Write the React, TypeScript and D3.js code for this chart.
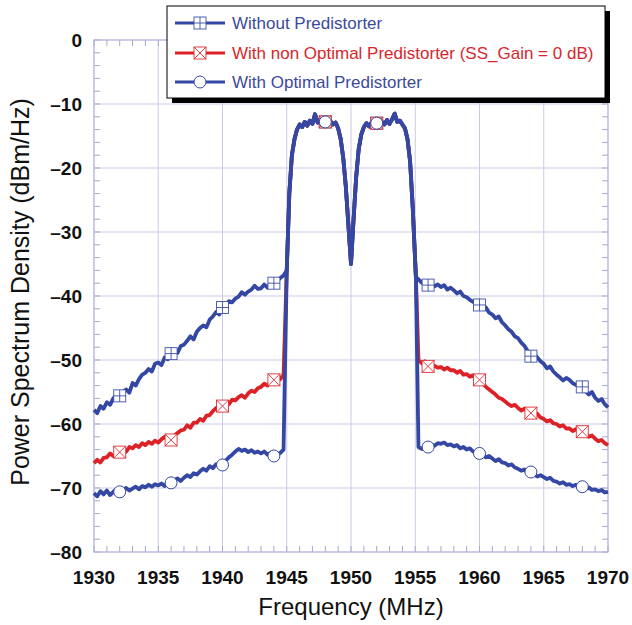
import React from 'react';
import * as d3 from 'd3';

const W = 632;
const H = 625;
const PL = 94, PR = 608, PT = 40, PB = 552;

const xTickValues = [1930, 1935, 1940, 1945, 1950, 1955, 1960, 1965, 1970];
const yTickValues = [0, -10, -20, -30, -40, -50, -60, -70, -80];
const markerFreqs = [1932, 1936, 1940, 1944, 1948, 1952, 1956, 1960, 1964, 1968];
const seriesLabels = [
  'Without Predistorter',
  'With non Optimal Predistorter (SS_Gain = 0 dB)',
  'With Optimal Predistorter',
];

// wing sampling (MHz)
const WING_STEP = 0.25;
const LEFT_START = 1930;
const RIGHT_START = 1955.25;

// Without predistorter
const withoutLeft = [
  -57.8, -58.3, -57.2, -57.6,
  -56.6, -57.0, -56.0, -55.4,
  -55.6, -55.0, -54.6, -55.1,
  -53.6, -54.0, -53.0, -52.3,
  -52.0, -51.4, -51.8, -50.6,
  -50.4, -50.8, -49.6, -49.9,
  -49.0, -48.6, -48.9, -47.8,
  -47.6, -47.0, -46.3, -46.8,
  -45.6, -45.0, -44.6, -44.9,
  -43.7, -43.2, -42.5, -42.9,
  -41.8, -41.5, -40.8, -41.0,
  -40.4, -40.1, -39.4, -39.8,
  -39.3, -39.0, -38.4, -38.9,
  -38.8, -38.2, -38.7, -38.0,
  -38.0, -37.6, -37.2, -36.8,
];
const withoutRight = [
  -37.4, -37.9, -38.2,
  -38.3, -38.0, -38.5, -38.2,
  -38.6, -38.3, -39.0, -38.7,
  -39.1, -39.6, -39.3, -40.0,
  -40.2, -40.6, -40.9, -41.2,
  -41.4, -42.0, -41.8, -42.6,
  -42.9, -43.5, -43.2, -44.1,
  -44.6, -45.2, -45.6, -46.3,
  -46.6, -47.3, -47.8, -48.6,
  -49.4, -49.0, -49.6, -50.2,
  -50.6, -51.3, -51.0, -51.8,
  -52.3, -52.7, -53.2, -52.8,
  -53.1, -53.6, -53.9, -54.0,
  -54.2, -54.8, -55.4, -55.0,
  -55.9, -56.4, -56.1, -56.9,
  -57.4,
];

// Non optimal predistorter
const nonOptLeft = [
  -66.1, -65.6, -66.0, -65.3,
  -65.2, -64.6, -65.0, -64.7,
  -64.4, -64.0, -64.3, -63.6,
  -63.8, -63.3, -63.6, -63.0,
  -63.3, -62.8, -63.1, -62.6,
  -62.9, -62.4, -62.0, -62.5,
  -62.5, -61.8, -61.4, -61.0,
  -60.9, -60.2, -60.6, -59.8,
  -59.8, -59.2, -59.5, -58.7,
  -58.6, -58.0, -57.5, -57.9,
  -57.2, -56.7, -56.9, -56.2,
  -56.3, -55.8, -55.5, -55.9,
  -55.2, -54.8, -55.0, -54.4,
  -54.2, -53.7, -54.0, -53.4,
  -53.1, -52.8, -53.0, -52.3,
];
const nonOptRight = [
  -50.0, -50.5, -50.2,
  -51.0, -50.6, -50.9, -51.2,
  -51.1, -51.5, -51.2, -51.6,
  -51.6, -52.0, -51.7, -52.3,
  -52.2, -52.6, -52.4, -52.9,
  -53.1, -53.6, -54.2, -54.6,
  -55.0, -55.4, -55.9, -56.1,
  -56.5, -56.9, -57.2, -57.0,
  -57.5, -57.9, -57.6, -58.1,
  -58.3, -58.7, -58.4, -59.0,
  -59.2, -59.6, -59.4, -59.9,
  -60.0, -60.4, -60.2, -60.7,
  -60.7, -61.1, -60.8, -61.3,
  -61.2, -61.6, -62.0, -61.8,
  -62.3, -62.7, -62.5, -63.0,
  -63.3,
];

// Optimal predistorter
const optLeft = [
  -70.8, -71.3, -70.5, -71.0,
  -70.4, -71.1, -70.6, -70.2,
  -70.6, -70.3, -70.0, -70.4,
  -70.1, -69.8, -70.2, -69.7,
  -69.9, -69.5, -69.8, -69.4,
  -69.6, -69.3, -69.7, -69.1,
  -69.2, -68.8, -68.5, -68.9,
  -68.4, -68.0, -68.3, -67.7,
  -67.9, -67.4, -67.0, -67.3,
  -66.6, -66.9, -66.3, -66.6,
  -66.4, -65.7, -65.2, -64.8,
  -64.3, -63.9, -64.2, -64.0,
  -64.4, -64.1, -64.5, -64.3,
  -64.6, -64.3, -64.8, -64.5,
  -65.0, -64.8, -64.5, -64.0,
];
const optRight = [
  -63.6, -63.9, -63.5,
  -63.6, -63.2, -63.4, -63.0,
  -63.1, -62.9, -63.3, -63.2,
  -63.5, -63.3, -63.8, -63.6,
  -64.0, -63.8, -64.3, -64.4,
  -64.6, -64.9, -65.2, -65.0,
  -65.4, -65.8, -65.5, -66.0,
  -66.1, -66.5, -66.3, -66.8,
  -67.0, -67.3, -67.1, -67.6,
  -67.5, -67.9, -68.2, -68.0,
  -68.3, -68.6, -68.4, -68.9,
  -69.0, -69.3, -69.1, -69.5,
  -69.4, -69.7, -69.5, -69.9,
  -69.8, -70.1, -69.9, -70.3,
  -70.2, -70.5, -70.3, -70.7,
  -70.6,
];

// In-band (common to all three)
const inbandFreq = [
  1945.0, 1945.2, 1945.4, 1945.6, 1945.8, 1946.0, 1946.2, 1946.4, 1946.6, 1946.8,
  1947.0, 1947.2, 1947.4, 1947.6, 1947.8, 1948.0, 1948.2, 1948.4, 1948.6, 1948.8,
  1949.0, 1949.2, 1949.4, 1949.6, 1949.8, 1950.0, 1950.2, 1950.4, 1950.6, 1950.8,
  1951.0, 1951.2, 1951.4, 1951.6, 1951.8, 1952.0, 1952.2, 1952.4, 1952.6, 1952.8,
  1953.0, 1953.2, 1953.4, 1953.6, 1953.8, 1954.0, 1954.2, 1954.4, 1954.6, 1954.8,
  1955.05,
];
const inbandLevel = [
  -36, -24, -18, -15.5, -14, -13.2, -13.6, -12.8, -13.4, -12.6,
  -13.1, -11.6, -12.9, -12.4, -13.3, -12.8, -13.4, -12.7, -13.2, -12.9,
  -13.8, -15.5, -18.5, -23, -29, -35, -28, -21.5, -17, -14.8,
  -13.6, -13.0, -13.5, -12.9, -13.3, -13.0, -13.4, -12.8, -13.2, -12.5,
  -13.1, -12.4, -11.5, -12.8, -12.6, -13.2, -13.8, -15.5, -19, -26,
  -37,
];

const BLUE = '#3347a3';
const RED = '#dd2227';
const BLUE_TEXT = '#3c4a9b';
const RED_TEXT = '#d8262c';
const GRID = '#c9c9e6';
const FONT = '"Liberation Sans", Arial, Helvetica, sans-serif';

type Pt = [number, number];

function buildSeries(left: number[], right: number[]): Pt[] {
  const pts: Pt[] = [];
  left.forEach((v, i) => pts.push([LEFT_START + i * WING_STEP, v]));
  inbandFreq.forEach((f, i) => pts.push([f, inbandLevel[i]]));
  right.forEach((v, i) => pts.push([RIGHT_START + i * WING_STEP, v]));
  return pts;
}

const series = [
  { name: seriesLabels[0], data: buildSeries(withoutLeft, withoutRight), color: BLUE, text: BLUE_TEXT, marker: 'plus' },
  { name: seriesLabels[1], data: buildSeries(nonOptLeft, nonOptRight), color: RED, text: RED_TEXT, marker: 'cross' },
  { name: seriesLabels[2], data: buildSeries(optLeft, optRight), color: BLUE, text: BLUE_TEXT, marker: 'circle' },
];

function Marker({ kind, cx, cy, color }: { kind: string; cx: number; cy: number; color: string }) {
  const s = 6;
  if (kind === 'circle') {
    return <circle cx={cx} cy={cy} r={6} fill="#fff" stroke={color} strokeWidth={1} />;
  }
  return (
    <g stroke={color} strokeWidth={1} fill="#fff" strokeOpacity={0.85}>
      <rect x={cx - s} y={cy - s} width={2 * s} height={2 * s} />
      {kind === 'plus' ? (
        <>
          <line x1={cx} y1={cy - s} x2={cx} y2={cy + s} />
          <line x1={cx - s} y1={cy} x2={cx + s} y2={cy} />
        </>
      ) : (
        <>
          <line x1={cx - s} y1={cy - s} x2={cx + s} y2={cy + s} />
          <line x1={cx - s} y1={cy + s} x2={cx + s} y2={cy - s} />
        </>
      )}
    </g>
  );
}

export default function App() {
  const x = d3.scaleLinear().domain([1930, 1970]).range([PL, PR]);
  const y = d3.scaleLinear().domain([-80, 0]).range([PB, PT]);
  const line = d3
    .line<Pt>()
    .x((d) => x(d[0]))
    .y((d) => y(d[1]));

  const xMinor = d3.range(1930, 1970.001, 1);
  const yMinor = d3.range(-80, 0.001, 2);

  const drawOrder = [1, 2, 0];
  const markerOrder = [0, 1, 2];

  const lx = 167, ly = 6, lw = 438, lh = 92;
  const rowY = [23, 53, 82];

  return (
    <svg width={W} height={H} style={{ display: 'block', position: 'absolute', left: 0, top: 0, background: '#fff' }} fontFamily={FONT}>
      <rect x={0} y={0} width={W} height={H} fill="#fff" />
      {/* grid */}
      {xTickValues.map((t) => (
        <line key={'gx' + t} x1={x(t)} x2={x(t)} y1={PT} y2={PB} stroke={GRID} strokeWidth={1} />
      ))}
      {yTickValues.map((t) => (
        <line key={'gy' + t} x1={PL} x2={PR} y1={y(t)} y2={y(t)} stroke={GRID} strokeWidth={1} />
      ))}
      {/* minor ticks */}
      {xMinor.map((t) => (
        <g key={'tx' + t} stroke="#a9a9cc" strokeWidth={1}>
          <line x1={x(t)} x2={x(t)} y1={PB} y2={PB - 6} />
          <line x1={x(t)} x2={x(t)} y1={PT} y2={PT + 6} />
        </g>
      ))}
      {yMinor.map((t) => (
        <g key={'ty' + t} stroke="#a9a9cc" strokeWidth={1}>
          <line x1={PL} x2={PL + 6} y1={y(t)} y2={y(t)} />
          <line x1={PR} x2={PR - 6} y1={y(t)} y2={y(t)} />
        </g>
      ))}
      <rect x={PL} y={PT} width={PR - PL} height={PB - PT} fill="none" stroke="#b4b4da" strokeWidth={1} />

      {/* lines */}
      {drawOrder.map((i) => (
        <path key={'l' + i} d={line(series[i].data) || ''} fill="none" stroke={series[i].color} strokeWidth={3.8} strokeLinejoin="round" />
      ))}
      {/* markers */}
      {markerOrder.map((i) =>
        series[i].data
          .filter((d) => markerFreqs.includes(d[0]))
          .map((d) => (
            <Marker key={'m' + i + '-' + d[0]} kind={series[i].marker} cx={x(d[0])} cy={y(d[1])} color={series[i].color} />
          ))
      )}

      {/* tick labels */}
      {xTickValues.map((t) => (
        <text key={'xl' + t} x={x(t)} y={584} textAnchor="middle" fontSize={19} fontWeight="bold" fill="#111">
          {t}
        </text>
      ))}
      {yTickValues.map((t) => (
        <text key={'yl' + t} x={82} y={y(t)} dy="0.35em" textAnchor="end" fontSize={19} fontWeight="bold" fill="#111">
          {t === 0 ? '0' : '\u2013' + Math.abs(t)}
        </text>
      ))}
      {/* axis titles */}
      <text x={(PL + PR) / 2} y={615} textAnchor="middle" fontSize={24} fill="#111">
        Frequency (MHz)
      </text>
      <text transform={`translate(29,292) rotate(-90)`} textAnchor="middle" fontSize={25} fill="#111">
        Power Spectrum Density (dBm/Hz)
      </text>

      {/* legend */}
      <rect x={lx + 5} y={ly + 5} width={lw} height={lh} fill="#000" />
      <rect x={lx} y={ly} width={lw} height={lh} fill="#fff" stroke="#000" strokeWidth={1} />
      {series.map((s, i) => (
        <g key={'lg' + i}>
          <line x1={175} x2={225} y1={rowY[i]} y2={rowY[i]} stroke={s.color} strokeWidth={3} />
          <Marker kind={s.marker} cx={200} cy={rowY[i]} color={s.color} />
          <text x={232} y={rowY[i]} dy="0.36em" fontSize={17} fill={s.text}>
            {s.name}
          </text>
        </g>
      ))}
    </svg>
  );
}
